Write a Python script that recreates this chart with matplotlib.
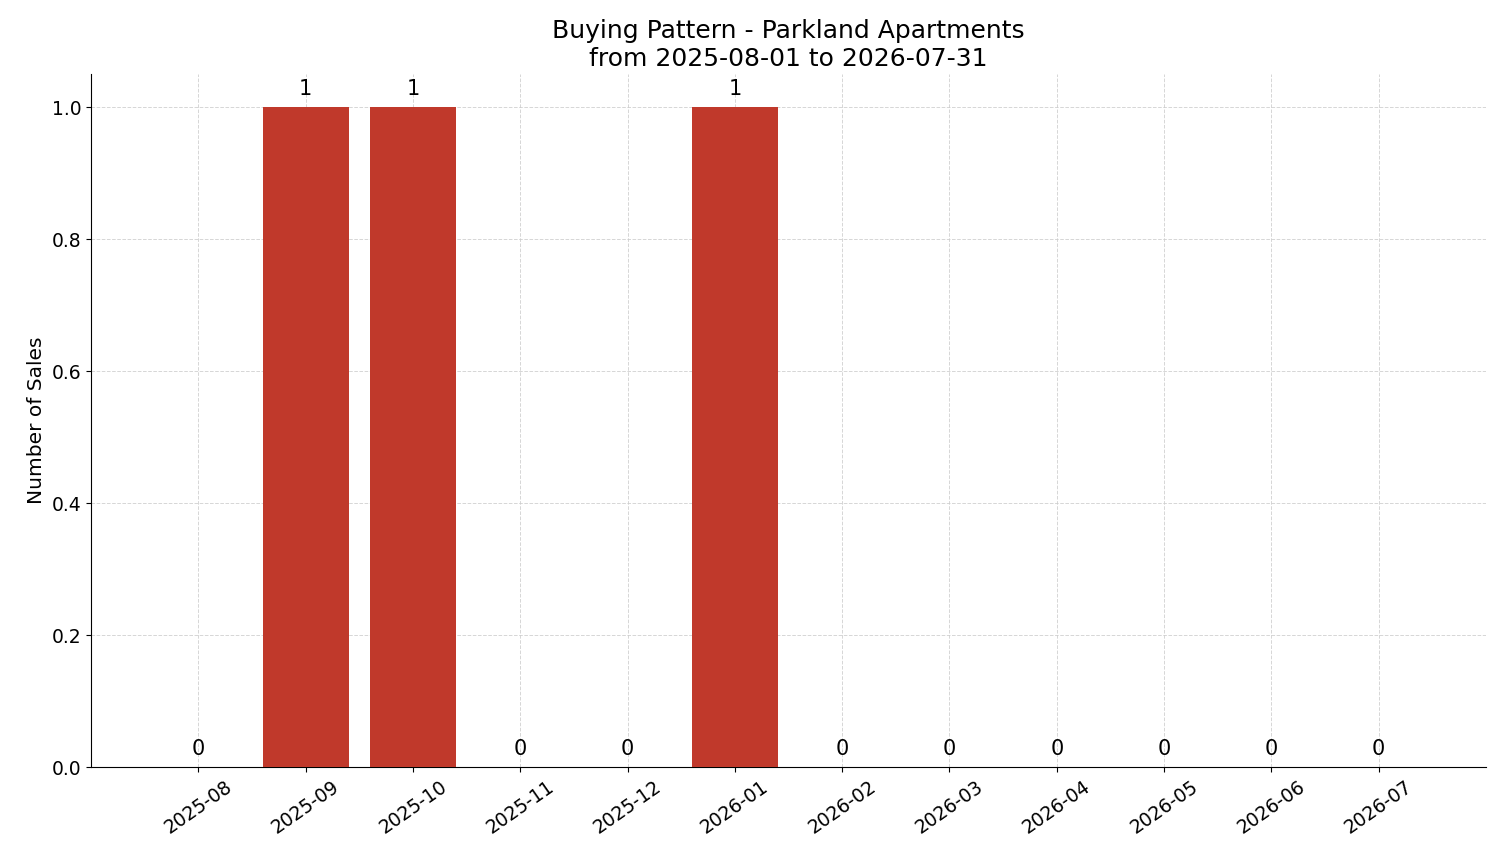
import matplotlib
matplotlib.use("Agg")
import matplotlib.pyplot as plt

months = ["2025-08","2025-09","2025-10","2025-11","2025-12","2026-01",
          "2026-02","2026-03","2026-04","2026-05","2026-06","2026-07"]
sales = [0,1,1,0,0,1,0,0,0,0,0,0]

fig = plt.figure(figsize=(15.01, 8.63), dpi=100)
ax = fig.add_axes([91/1501, 1-767/863, (1486-91)/1501, (767-74)/863])
x = list(range(len(months)))
bars = ax.bar(x, sales, width=0.8, color="#c0392b", zorder=3)
for xi, v in zip(x, sales):
    ax.text(xi, v + 0.012, str(v), ha="center", va="bottom", fontsize=15)
ax.set_xticks(x)
ax.set_xticklabels(months, rotation=35, fontsize=13.5)
ax.tick_params(axis="y", labelsize=13.5)
ax.set_xlim(-1, 12)
ax.set_ylim(0, 1.05)
ax.set_yticks([0,0.2,0.4,0.6,0.8,1.0])
ax.grid(True, linestyle="--", color="#cccccc", linewidth=0.7, alpha=0.8, zorder=0)
ax.spines["top"].set_visible(False)
ax.spines["right"].set_visible(False)
ax.set_ylabel("Number of Sales", fontsize=14.5)
ax.set_title("Buying Pattern - Parkland Apartments\nfrom 2025-08-01 to 2026-07-31", fontsize=18, pad=6)
fig.savefig("out.png", dpi=100)
